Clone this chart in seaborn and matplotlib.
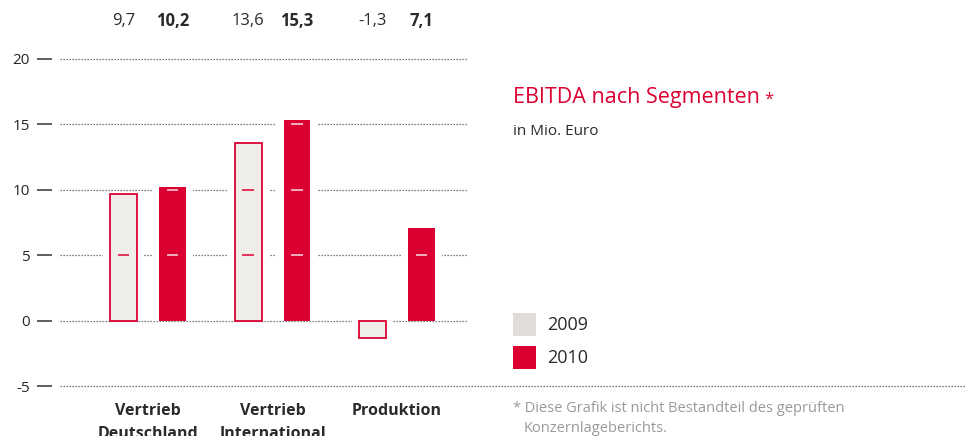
import matplotlib
matplotlib.use("Agg")
import matplotlib.pyplot as plt
from matplotlib.colors import to_rgb
from matplotlib.patches import Rectangle
from matplotlib.transforms import blended_transform_factory
import seaborn as sns
import pandas as pd

# EBITDA by segment, in million euro
segments = ["Vertrieb\nDeutschland", "Vertrieb\nInternational", "Produktion"]
years = ["2009", "2010"]
ebitda_2009 = [9.7, 13.6, -1.3]
ebitda_2010 = [10.2, 15.3, 7.1]
yticks = [-5, 0, 5, 10, 15, 20]

RED = "#DC0032"
PALE = "#EEEDE9"
LEGEND_GREY = "#E0DCD8"
TEXT = "#2A2A2A"
GRID = "#555555"

df = pd.DataFrame({
    "segment": segments * 2,
    "year": [years[0]] * 3 + [years[1]] * 3,
    "value": ebitda_2009 + ebitda_2010,
})

sns.set_theme(style="white")
plt.rcParams["font.family"] = ["Open Sans", "DejaVu Sans"]

W, H = 968, 436
fig = plt.figure(figsize=(W / 100, H / 100), dpi=100)
ax = fig.add_axes([60 / W, 1 - 386 / H, 408 / W, (386 - 59) / H])

# dotted grid lines
for t in yticks:
    ax.axhline(t, color=GRID, lw=0.9, ls=(0, (1, 1.4)), zorder=0,
               clip_on=False)

# white clearance around each bar to break the grid lines
sns.barplot(data=df, x="segment", y="value", hue="year", order=segments,
            hue_order=years, palette=["white", "white"], saturation=1,
            width=0.787, gap=0.16, dodge=True, legend=False, ax=ax,
            zorder=1, linewidth=0)
n_pad = len(ax.patches)

sns.barplot(data=df, x="segment", y="value", hue="year", order=segments,
            hue_order=years, palette=[PALE, RED], saturation=1, width=0.787,
            gap=0.45, dodge=True, legend=False, ax=ax, zorder=2, linewidth=0)
bars = ax.patches[n_pad:]


def is_red(patch):
    return all(abs(a - b) < 0.02 for a, b in
               zip(patch.get_facecolor()[:3], to_rgb(RED)))


for b in bars:
    if not is_red(b):
        b.set_edgecolor(RED)
        b.set_linewidth(1.3)

# short marks inside the bars at each grid level
for b in bars:
    h = b.get_height()
    cx = b.get_x() + b.get_width() / 2
    for t in yticks:
        if 0 < t <= h:
            ax.plot([cx - 0.045, cx + 0.045], [t, t], lw=1.1,
                    color="#F6DCE2" if is_red(b) else RED, zorder=3,
                    solid_capstyle="butt")

# value labels above the plot
top = blended_transform_factory(ax.transData, fig.transFigure)
for b in bars:
    cx = b.get_x() + b.get_width() / 2
    label = f"{b.get_height():.1f}".replace(".", ",")
    ax.text(cx, 1 - 21 / H, label, transform=top, ha="center", va="center",
            fontsize=12, color=TEXT,
            fontweight="bold" if is_red(b) else "normal")

ax.set_xlim(-0.707, 2.570)
ax.set_ylim(-5, 20)
ax.set_yticks(yticks)
ax.set_yticklabels([str(t) for t in yticks], fontsize=12.5, color=TEXT)
ax.set_xlabel("")
ax.set_ylabel("")
ax.set_xticks(range(len(segments)))
ax.set_xticklabels(segments, fontsize=11.5, fontweight="bold", color=TEXT,
                   va="top", linespacing=1.6)
ax.tick_params(axis="x", length=0, pad=12)
ax.tick_params(axis="y", left=True, length=10.8, width=1.1, color="#333333",
               pad=5, direction="out")
for s in ["top", "right", "bottom"]:
    ax.spines[s].set_visible(False)
ax.spines["left"].set_position(("outward", 6))
ax.spines["left"].set_visible(False)

# -5 line runs on under the legend area as a separator
across = blended_transform_factory(fig.transFigure, ax.transData)
ax.plot([468 / W, 966 / W], [-5, -5], transform=across, color=GRID,
        lw=0.9, ls=(0, (1, 1.4)), clip_on=False, zorder=0)

# title block
title = fig.text(513 / W, 1 - 97 / H, "EBITDA nach Segmenten", color=RED,
                 fontsize=15.5, va="center", ha="left")
fig.canvas.draw()
tb = title.get_window_extent()
fig.text(tb.x1 + 4, tb.y1 - 5, "*", color=RED, fontsize=12, va="top",
         ha="left", transform=None)
fig.text(513 / W, 1 - 131 / H, "in Mio. Euro", color=TEXT, fontsize=11,
         va="center", ha="left")

# legend
for i, (yr, col) in enumerate(zip(years, [LEGEND_GREY, RED])):
    y0 = 313 + i * 33
    fig.patches.append(Rectangle((513 / W, 1 - (y0 + 23) / H), 23 / W, 23 / H,
                                 transform=fig.transFigure, facecolor=col,
                                 edgecolor="none"))
    fig.text(547 / W, 1 - (y0 + 12) / H, yr, color=TEXT, fontsize=13,
             va="center", ha="left")

# footnote
fig.text(513 / W, 1 - 408 / H,
         "* Diese Grafik ist nicht Bestandteil des geprüften",
         color="#9A9A9A", fontsize=10.5, va="center", ha="left")
fig.text(524 / W, 1 - 428 / H, "Konzernlageberichts.", color="#9A9A9A",
         fontsize=10.5, va="center", ha="left")

fig.savefig("out.png", dpi=100)
